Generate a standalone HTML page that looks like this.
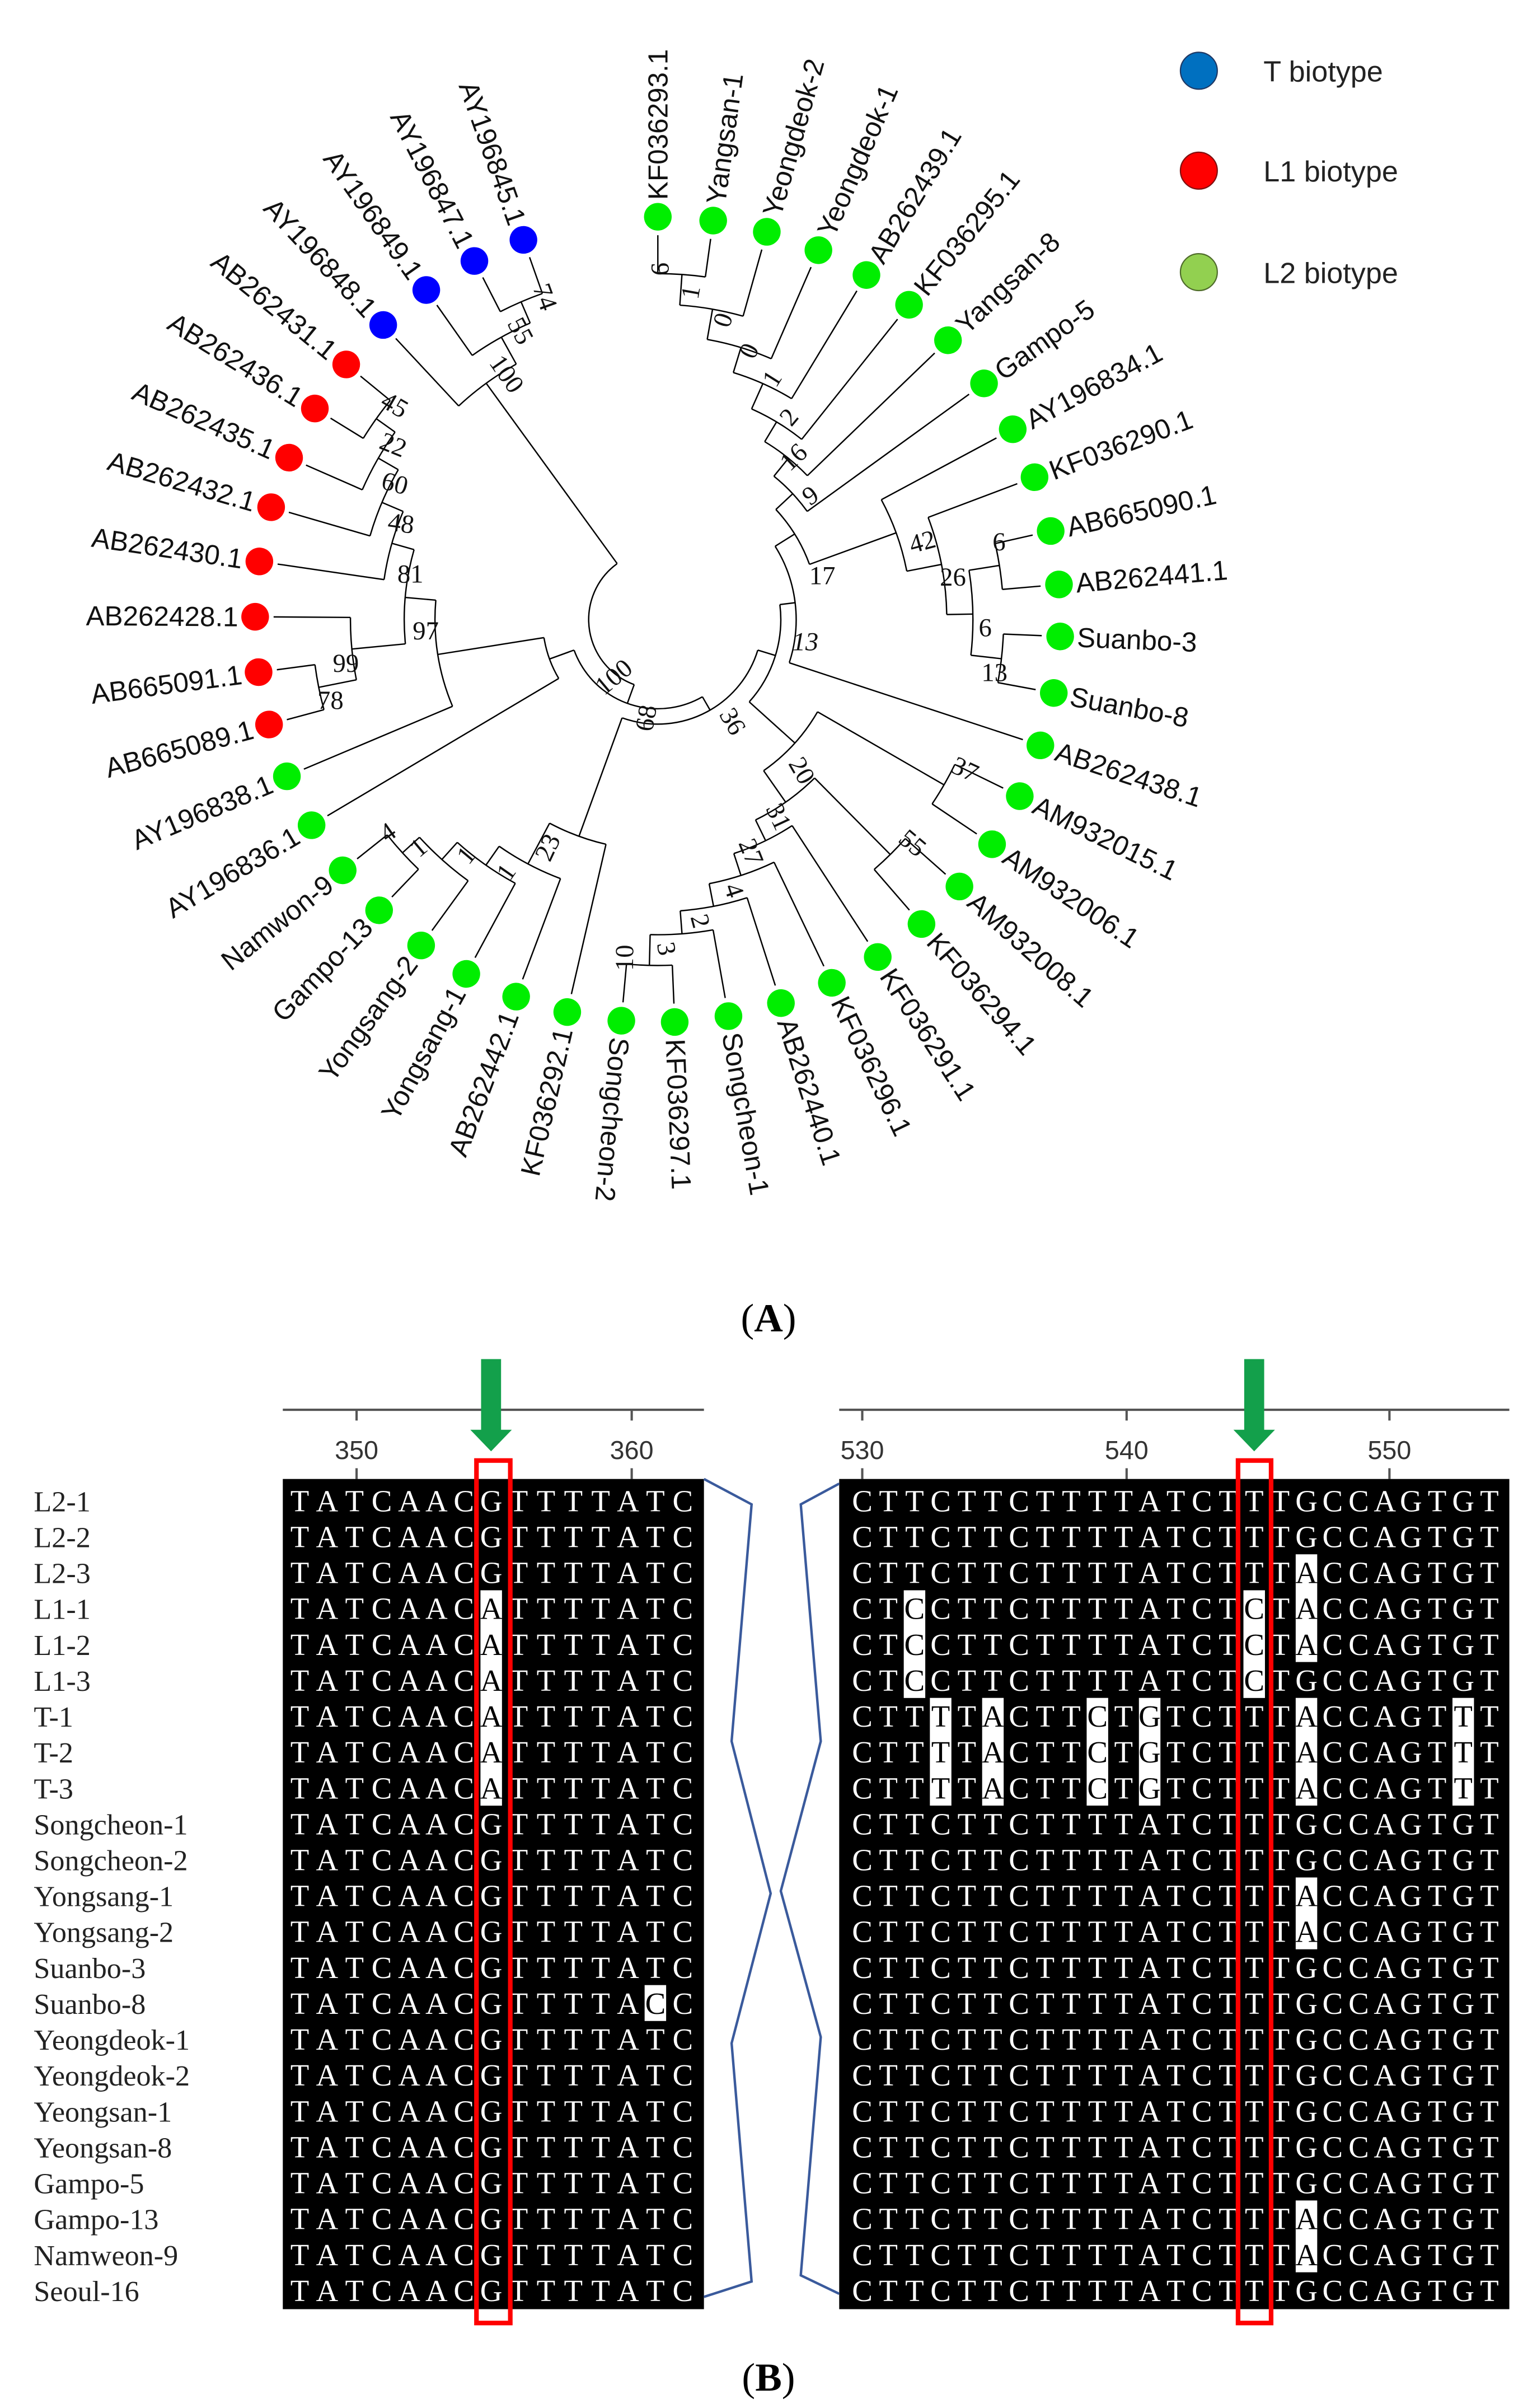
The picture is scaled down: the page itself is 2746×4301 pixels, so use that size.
<!DOCTYPE html>
<html><head><meta charset="utf-8">
<style>
html,body{margin:0;padding:0;background:#fff;}
svg{display:block;}
</style></head>
<body>
<svg xmlns="http://www.w3.org/2000/svg" width="2746" height="4301" viewBox="0 0 1000 1566.28">
<rect width="1000" height="1566.28" fill="#fff"/>

<g transform="translate(428 403)">
<g stroke="#000" stroke-width="0.9" fill="none">
<line x1="225" x2="250" transform="rotate(-90)"/><line x1="225" x2="250" transform="rotate(-82.1)"/>
<circle r="225" pathLength="360" stroke-dasharray="7.9 400" transform="rotate(-90)"/>
<line x1="205" x2="225" transform="rotate(-86)"/><line x1="205" x2="250" transform="rotate(-74.3)"/>
<circle r="205" pathLength="360" stroke-dasharray="11.7 400" transform="rotate(-86)"/>
<line x1="185" x2="205" transform="rotate(-80)"/><line x1="185" x2="250" transform="rotate(-66.5)"/>
<circle r="185" pathLength="360" stroke-dasharray="13.5 400" transform="rotate(-80)"/>
<line x1="168" x2="185" transform="rotate(-73)"/><line x1="168" x2="250" transform="rotate(-58.8)"/>
<circle r="168" pathLength="360" stroke-dasharray="14.2 400" transform="rotate(-73)"/>
<line x1="150" x2="168" transform="rotate(-66)"/><line x1="150" x2="250" transform="rotate(-51.4)"/>
<circle r="150" pathLength="360" stroke-dasharray="14.6 400" transform="rotate(-66)"/>
<line x1="135" x2="150" transform="rotate(-59)"/><line x1="135" x2="250" transform="rotate(-43.9)"/>
<circle r="135" pathLength="360" stroke-dasharray="15.1 400" transform="rotate(-59)"/>
<line x1="120" x2="135" transform="rotate(-51)"/><line x1="120" x2="250" transform="rotate(-35.9)"/>
<circle r="120" pathLength="360" stroke-dasharray="15.1 400" transform="rotate(-51)"/>
<line x1="225" x2="250" transform="rotate(-12.7)"/><line x1="225" x2="250" transform="rotate(-5)"/>
<circle r="225" pathLength="360" stroke-dasharray="7.7 400" transform="rotate(-12.7)"/>
<line x1="225" x2="250" transform="rotate(2.4)"/><line x1="225" x2="250" transform="rotate(10.5)"/>
<circle r="225" pathLength="360" stroke-dasharray="8.1 400" transform="rotate(2.4)"/>
<line x1="205" x2="225" transform="rotate(-9)"/><line x1="205" x2="225" transform="rotate(6.5)"/>
<circle r="205" pathLength="360" stroke-dasharray="15.5 400" transform="rotate(-9)"/>
<line x1="188" x2="250" transform="rotate(-20.7)"/><line x1="188" x2="205" transform="rotate(-1)"/>
<circle r="188" pathLength="360" stroke-dasharray="19.7 400" transform="rotate(-20.7)"/>
<line x1="165" x2="250" transform="rotate(-28.2)"/><line x1="165" x2="188" transform="rotate(-11)"/>
<circle r="165" pathLength="360" stroke-dasharray="17.2 400" transform="rotate(-28.2)"/>
<line x1="105" x2="120" transform="rotate(-43)"/><line x1="105" x2="165" transform="rotate(-20)"/>
<circle r="105" pathLength="360" stroke-dasharray="23 400" transform="rotate(-43)"/>
<line x1="90" x2="105" transform="rotate(-32)"/><line x1="90" x2="250" transform="rotate(18.2)"/>
<circle r="90" pathLength="360" stroke-dasharray="50.2 400" transform="rotate(-32)"/>
<line x1="225" x2="250" transform="rotate(87.6)"/><line x1="225" x2="250" transform="rotate(95.2)"/>
<circle r="225" pathLength="360" stroke-dasharray="7.6 400" transform="rotate(87.6)"/>
<line x1="205" x2="250" transform="rotate(79.9)"/><line x1="205" x2="225" transform="rotate(91.4)"/>
<circle r="205" pathLength="360" stroke-dasharray="11.5 400" transform="rotate(79.9)"/>
<line x1="190" x2="250" transform="rotate(72.2)"/><line x1="190" x2="205" transform="rotate(85.6)"/>
<circle r="190" pathLength="360" stroke-dasharray="13.4 400" transform="rotate(72.2)"/>
<line x1="175" x2="250" transform="rotate(64.4)"/><line x1="175" x2="190" transform="rotate(79)"/>
<circle r="175" pathLength="360" stroke-dasharray="14.6 400" transform="rotate(64.4)"/>
<line x1="160" x2="250" transform="rotate(56.9)"/><line x1="160" x2="175" transform="rotate(72)"/>
<circle r="160" pathLength="360" stroke-dasharray="15.1 400" transform="rotate(56.9)"/>
<line x1="215" x2="250" transform="rotate(41.5)"/><line x1="215" x2="250" transform="rotate(49.1)"/>
<circle r="215" pathLength="360" stroke-dasharray="7.6 400" transform="rotate(41.5)"/>
<line x1="145" x2="215" transform="rotate(45.3)"/><line x1="145" x2="160" transform="rotate(64)"/>
<circle r="145" pathLength="360" stroke-dasharray="18.7 400" transform="rotate(45.3)"/>
<line x1="215" x2="250" transform="rotate(26)"/><line x1="215" x2="250" transform="rotate(33.9)"/>
<circle r="215" pathLength="360" stroke-dasharray="7.9 400" transform="rotate(26)"/>
<line x1="120" x2="215" transform="rotate(30)"/><line x1="120" x2="145" transform="rotate(55)"/>
<circle r="120" pathLength="360" stroke-dasharray="25 400" transform="rotate(30)"/>
<line x1="80" x2="90" transform="rotate(-7)"/><line x1="80" x2="120" transform="rotate(42)"/>
<circle r="80" pathLength="360" stroke-dasharray="49 400" transform="rotate(-7)"/>
<line x1="225" x2="250" transform="rotate(133.8)"/><line x1="225" x2="250" transform="rotate(141.5)"/>
<circle r="225" pathLength="360" stroke-dasharray="7.7 400" transform="rotate(133.8)"/>
<line x1="210" x2="250" transform="rotate(126)"/><line x1="210" x2="225" transform="rotate(137.6)"/>
<circle r="210" pathLength="360" stroke-dasharray="11.6 400" transform="rotate(126)"/>
<line x1="195" x2="250" transform="rotate(118.4)"/><line x1="195" x2="210" transform="rotate(132)"/>
<circle r="195" pathLength="360" stroke-dasharray="13.6 400" transform="rotate(118.4)"/>
<line x1="180" x2="250" transform="rotate(110.6)"/><line x1="180" x2="195" transform="rotate(125)"/>
<circle r="180" pathLength="360" stroke-dasharray="14.4 400" transform="rotate(110.6)"/>
<line x1="150" x2="250" transform="rotate(103)"/><line x1="150" x2="180" transform="rotate(118)"/>
<circle r="150" pathLength="360" stroke-dasharray="15 400" transform="rotate(103)"/>
<line x1="68" x2="80" transform="rotate(17)"/><line x1="68" x2="150" transform="rotate(110)"/>
<circle r="68" pathLength="360" stroke-dasharray="93 400" transform="rotate(17)"/>
<line x1="225" x2="250" transform="rotate(211.6)"/><line x1="225" x2="250" transform="rotate(219.3)"/>
<circle r="225" pathLength="360" stroke-dasharray="7.7 400" transform="rotate(211.6)"/>
<line x1="210" x2="250" transform="rotate(203.7)"/><line x1="210" x2="225" transform="rotate(215.5)"/>
<circle r="210" pathLength="360" stroke-dasharray="11.8 400" transform="rotate(203.7)"/>
<line x1="195" x2="250" transform="rotate(196.2)"/><line x1="195" x2="210" transform="rotate(210)"/>
<circle r="195" pathLength="360" stroke-dasharray="13.8 400" transform="rotate(196.2)"/>
<line x1="180" x2="250" transform="rotate(188.3)"/><line x1="180" x2="195" transform="rotate(203)"/>
<circle r="180" pathLength="360" stroke-dasharray="14.7 400" transform="rotate(188.3)"/>
<line x1="225" x2="250" transform="rotate(164.9)"/><line x1="225" x2="250" transform="rotate(172.5)"/>
<circle r="225" pathLength="360" stroke-dasharray="7.6 400" transform="rotate(164.9)"/>
<line x1="200" x2="225" transform="rotate(168.7)"/><line x1="200" x2="250" transform="rotate(180.4)"/>
<circle r="200" pathLength="360" stroke-dasharray="11.7 400" transform="rotate(168.7)"/>
<line x1="165" x2="200" transform="rotate(174.5)"/><line x1="165" x2="180" transform="rotate(196)"/>
<circle r="165" pathLength="360" stroke-dasharray="21.5 400" transform="rotate(174.5)"/>
<line x1="145" x2="250" transform="rotate(157.1)"/><line x1="145" x2="165" transform="rotate(185)"/>
<circle r="145" pathLength="360" stroke-dasharray="27.9 400" transform="rotate(157.1)"/>
<line x1="75" x2="250" transform="rotate(149.3)"/><line x1="75" x2="145" transform="rotate(171)"/>
<circle r="75" pathLength="360" stroke-dasharray="21.7 400" transform="rotate(149.3)"/>
<line x1="58" x2="68" transform="rotate(60)"/><line x1="58" x2="75" transform="rotate(160)"/>
<circle r="58" pathLength="360" stroke-dasharray="100 400" transform="rotate(60)"/>
<line x1="225" x2="250" transform="rotate(242.9)"/><line x1="225" x2="250" transform="rotate(250.5)"/>
<circle r="225" pathLength="360" stroke-dasharray="7.6 400" transform="rotate(242.9)"/>
<line x1="210" x2="250" transform="rotate(234.9)"/><line x1="210" x2="225" transform="rotate(246.7)"/>
<circle r="210" pathLength="360" stroke-dasharray="11.8 400" transform="rotate(234.9)"/>
<line x1="190" x2="250" transform="rotate(227)"/><line x1="190" x2="210" transform="rotate(241)"/>
<circle r="190" pathLength="360" stroke-dasharray="14 400" transform="rotate(227)"/>
<line x1="45" x2="58" transform="rotate(110)"/><line x1="45" x2="190" transform="rotate(234)"/>
<circle r="45" pathLength="360" stroke-dasharray="124 400" transform="rotate(110)"/>
</g>

<g fill="#00ee00">
<circle cx="262" r="9" transform="rotate(-90)"/>
<circle cx="262" r="9" transform="rotate(-82.1)"/>
<circle cx="262" r="9" transform="rotate(-74.3)"/>
<circle cx="262" r="9" transform="rotate(-66.5)"/>
<circle cx="262" r="9" transform="rotate(-58.8)"/>
<circle cx="262" r="9" transform="rotate(-51.4)"/>
<circle cx="262" r="9" transform="rotate(-43.9)"/>
<circle cx="262" r="9" transform="rotate(-35.9)"/>
<circle cx="262" r="9" transform="rotate(-28.2)"/>
<circle cx="262" r="9" transform="rotate(-20.7)"/>
<circle cx="262" r="9" transform="rotate(-12.7)"/>
<circle cx="262" r="9" transform="rotate(-5)"/>
<circle cx="262" r="9" transform="rotate(2.4)"/>
<circle cx="262" r="9" transform="rotate(10.5)"/>
<circle cx="262" r="9" transform="rotate(18.2)"/>
<circle cx="262" r="9" transform="rotate(26)"/>
<circle cx="262" r="9" transform="rotate(33.9)"/>
<circle cx="262" r="9" transform="rotate(41.5)"/>
<circle cx="262" r="9" transform="rotate(49.1)"/>
<circle cx="262" r="9" transform="rotate(56.9)"/>
<circle cx="262" r="9" transform="rotate(64.4)"/>
<circle cx="262" r="9" transform="rotate(72.2)"/>
<circle cx="262" r="9" transform="rotate(79.9)"/>
<circle cx="262" r="9" transform="rotate(87.6)"/>
<circle cx="262" r="9" transform="rotate(95.2)"/>
<circle cx="262" r="9" transform="rotate(103)"/>
<circle cx="262" r="9" transform="rotate(110.6)"/>
<circle cx="262" r="9" transform="rotate(118.4)"/>
<circle cx="262" r="9" transform="rotate(126)"/>
<circle cx="262" r="9" transform="rotate(133.8)"/>
<circle cx="262" r="9" transform="rotate(141.5)"/>
<circle cx="262" r="9" transform="rotate(149.3)"/>
<circle cx="262" r="9" transform="rotate(157.1)"/>
</g>
<g fill="#ff0000">
<circle cx="262" r="9" transform="rotate(164.9)"/>
<circle cx="262" r="9" transform="rotate(172.5)"/>
<circle cx="262" r="9" transform="rotate(180.4)"/>
<circle cx="262" r="9" transform="rotate(188.3)"/>
<circle cx="262" r="9" transform="rotate(196.2)"/>
<circle cx="262" r="9" transform="rotate(203.7)"/>
<circle cx="262" r="9" transform="rotate(211.6)"/>
<circle cx="262" r="9" transform="rotate(219.3)"/>
</g>
<g fill="#0000ff">
<circle cx="262" r="9" transform="rotate(227)"/>
<circle cx="262" r="9" transform="rotate(234.9)"/>
<circle cx="262" r="9" transform="rotate(242.9)"/>
<circle cx="262" r="9" transform="rotate(250.5)"/>
</g>

<g font-family="'Liberation Sans', Arial, sans-serif" font-size="18" fill="#111">
<text dy=".35em" transform="rotate(-90) translate(273 0)">KF036293.1</text>
<text dy=".35em" transform="rotate(-82.1) translate(273 0)">Yangsan-1</text>
<text dy=".35em" transform="rotate(-74.3) translate(273 0)">Yeongdeok-2</text>
<text dy=".35em" transform="rotate(-66.5) translate(273 0)">Yeongdeok-1</text>
<text dy=".35em" transform="rotate(-58.8) translate(273 0)">AB262439.1</text>
<text dy=".35em" transform="rotate(-51.4) translate(273 0)">KF036295.1</text>
<text dy=".35em" transform="rotate(-43.9) translate(273 0)">Yangsan-8</text>
<text dy=".35em" transform="rotate(-35.9) translate(273 0)">Gampo-5</text>
<text dy=".35em" transform="rotate(-28.2) translate(273 0)">AY196834.1</text>
<text dy=".35em" transform="rotate(-20.7) translate(273 0)">KF036290.1</text>
<text dy=".35em" transform="rotate(-12.7) translate(273 0)">AB665090.1</text>
<text dy=".35em" transform="rotate(-5) translate(273 0)">AB262441.1</text>
<text dy=".35em" transform="rotate(2.4) translate(273 0)">Suanbo-3</text>
<text dy=".35em" transform="rotate(10.5) translate(273 0)">Suanbo-8</text>
<text dy=".35em" transform="rotate(18.2) translate(273 0)">AB262438.1</text>
<text dy=".35em" transform="rotate(26) translate(273 0)">AM932015.1</text>
<text dy=".35em" transform="rotate(33.9) translate(273 0)">AM932006.1</text>
<text dy=".35em" transform="rotate(41.5) translate(273 0)">AM932008.1</text>
<text dy=".35em" transform="rotate(49.1) translate(273 0)">KF036294.1</text>
<text dy=".35em" transform="rotate(56.9) translate(273 0)">KF036291.1</text>
<text dy=".35em" transform="rotate(64.4) translate(273 0)">KF036296.1</text>
<text dy=".35em" transform="rotate(72.2) translate(273 0)">AB262440.1</text>
<text dy=".35em" transform="rotate(79.9) translate(273 0)">Songcheon-1</text>
<text dy=".35em" transform="rotate(87.6) translate(273 0)">KF036297.1</text>
<text dy=".35em" transform="rotate(95.2) translate(273 0)">Songcheon-2</text>
<text dy=".35em" text-anchor="end" transform="rotate(-77) translate(-273 0)">KF036292.1</text>
<text dy=".35em" text-anchor="end" transform="rotate(-69.4) translate(-273 0)">AB262442.1</text>
<text dy=".35em" text-anchor="end" transform="rotate(-61.6) translate(-273 0)">Yongsang-1</text>
<text dy=".35em" text-anchor="end" transform="rotate(-54) translate(-273 0)">Yongsang-2</text>
<text dy=".35em" text-anchor="end" transform="rotate(-46.2) translate(-273 0)">Gampo-13</text>
<text dy=".35em" text-anchor="end" transform="rotate(-38.5) translate(-273 0)">Namwon-9</text>
<text dy=".35em" text-anchor="end" transform="rotate(-30.7) translate(-273 0)">AY196836.1</text>
<text dy=".35em" text-anchor="end" transform="rotate(-22.9) translate(-273 0)">AY196838.1</text>
<text dy=".35em" text-anchor="end" transform="rotate(-15.1) translate(-273 0)">AB665089.1</text>
<text dy=".35em" text-anchor="end" transform="rotate(-7.5) translate(-273 0)">AB665091.1</text>
<text dy=".35em" text-anchor="end" transform="rotate(0.4) translate(-273 0)">AB262428.1</text>
<text dy=".35em" text-anchor="end" transform="rotate(8.3) translate(-273 0)">AB262430.1</text>
<text dy=".35em" text-anchor="end" transform="rotate(16.2) translate(-273 0)">AB262432.1</text>
<text dy=".35em" text-anchor="end" transform="rotate(23.7) translate(-273 0)">AB262435.1</text>
<text dy=".35em" text-anchor="end" transform="rotate(31.6) translate(-273 0)">AB262436.1</text>
<text dy=".35em" text-anchor="end" transform="rotate(39.3) translate(-273 0)">AB262431.1</text>
<text dy=".35em" text-anchor="end" transform="rotate(47) translate(-273 0)">AY196848.1</text>
<text dy=".35em" text-anchor="end" transform="rotate(54.9) translate(-273 0)">AY196849.1</text>
<text dy=".35em" text-anchor="end" transform="rotate(62.9) translate(-273 0)">AY196847.1</text>
<text dy=".35em" text-anchor="end" transform="rotate(70.5) translate(-273 0)">AY196845.1</text>
</g>
</g>

<g font-family="'Liberation Serif', 'Times New Roman', serif" font-size="17" fill="#111" text-anchor="middle">
<text dy=".35em" transform="translate(429 175) rotate(-90)">6</text>
<text dy=".35em" transform="translate(449 190) rotate(-80)">1</text>
<text dy=".35em" transform="translate(470 208) rotate(-72)">0</text>
<text dy=".35em" transform="translate(487 228) rotate(-65)">0</text>
<text dy=".35em" transform="translate(502 246) rotate(-58)">1</text>
<text dy=".35em" transform="translate(513 271) rotate(-50)">2</text>
<text dy=".35em" transform="translate(516 297) rotate(-43)">16</text>
<text dy=".35em" transform="translate(527 322) rotate(-35)">9</text>
<text dy=".35em" transform="translate(600 352) rotate(-15)">42</text>
<text dy=".35em" x="620" y="375">26</text>
<text dy=".35em" x="650" y="352">6</text>
<text dy=".35em" x="641" y="408">6</text>
<text dy=".35em" x="647" y="437">13</text>
<text dy=".35em" x="535" y="374">17</text>
<text dy=".35em" x="524" y="417" font-style="italic">13</text>
<text dy=".35em" transform="translate(628 500) rotate(25)">37</text>
<text dy=".35em" transform="translate(522 501) rotate(60)">20</text>
<text dy=".35em" transform="translate(507 531) rotate(65)">31</text>
<text dy=".35em" transform="translate(594 548) rotate(40)">55</text>
<text dy=".35em" transform="translate(489 554) rotate(68)">27</text>
<text dy=".35em" transform="translate(478 579) rotate(72)">4</text>
<text dy=".35em" transform="translate(456 599) rotate(75)">2</text>
<text dy=".35em" transform="translate(434 617) rotate(80)">3</text>
<text dy=".35em" transform="translate(406 623) rotate(-90)">10</text>
<text dy=".35em" transform="translate(477 469) rotate(60)">36</text>
<text dy=".35em" transform="translate(420 467) rotate(-80)">68</text>
<text dy=".35em" transform="translate(399 440) rotate(-40)">100</text>
<text dy=".35em" transform="translate(355 193) rotate(70)">74</text>
<text dy=".35em" transform="translate(339 215) rotate(62)">55</text>
<text dy=".35em" transform="translate(330 243) rotate(55)">100</text>
<text dy=".35em" transform="translate(257 263) rotate(30)">45</text>
<text dy=".35em" transform="translate(256 289) rotate(22)">22</text>
<text dy=".35em" transform="translate(257 314) rotate(15)">60</text>
<text dy=".35em" transform="translate(261 340) rotate(8)">48</text>
<text dy=".35em" x="267" y="373">81</text>
<text dy=".35em" x="277" y="410">97</text>
<text dy=".35em" x="225" y="431">99</text>
<text dy=".35em" x="215" y="455">78</text>
<text dy=".35em" transform="translate(252 541) rotate(-35)">4</text>
<text dy=".35em" transform="translate(272 551) rotate(-40)">1</text>
<text dy=".35em" transform="translate(303 556) rotate(-50)">1</text>
<text dy=".35em" transform="translate(329 567) rotate(-55)">1</text>
<text dy=".35em" transform="translate(356 551) rotate(-65)">23</text>
</g>

<circle cx="780" cy="46" r="12" fill="#0070c0" stroke="#1f3864" stroke-width="0.8"/>
<circle cx="780" cy="111" r="12" fill="#ff0000" stroke="#7f1010" stroke-width="0.8"/>
<circle cx="780" cy="177" r="12" fill="#92d050" stroke="#4e6b2a" stroke-width="0.8"/>
<g font-family="'Liberation Sans', Arial, sans-serif" font-size="19" fill="#222">
<text x="822" y="53">T biotype</text>
<text x="822" y="118">L1 biotype</text>
<text x="822" y="184">L2 biotype</text>
</g>

<text x="500" y="866" text-anchor="middle" font-family="'Liberation Serif', serif" font-size="26" fill="#000">(<tspan font-weight="bold">A</tspan>)</text>

<g stroke="#555" stroke-width="1.5">
<line x1="184" y1="917" x2="458" y2="917"/>
<line x1="232" y1="917" x2="232" y2="924"/><line x1="411" y1="917" x2="411" y2="924"/>
<line x1="232" y1="955" x2="232" y2="962"/><line x1="411" y1="955" x2="411" y2="962"/>
<line x1="546" y1="917" x2="982" y2="917"/>
<line x1="561" y1="917" x2="561" y2="924"/><line x1="733" y1="917" x2="733" y2="924"/><line x1="904" y1="917" x2="904" y2="924"/>
<line x1="561" y1="955" x2="561" y2="962"/><line x1="733" y1="955" x2="733" y2="962"/><line x1="904" y1="955" x2="904" y2="962"/>
</g>
<g font-family="'Liberation Sans', Arial, sans-serif" font-size="17" fill="#333" text-anchor="middle">
<text x="232" y="949">350</text><text x="411" y="949">360</text>
<text x="561" y="949">530</text><text x="733" y="949">540</text><text x="904" y="949">550</text>
</g>

<rect x="184" y="962" width="274" height="540" fill="#000"/>
<rect x="546" y="962" width="436" height="540" fill="#000"/>

<g font-family="'Liberation Serif', 'Times New Roman', serif" font-size="19" fill="#222">
<text x="22" y="983">L2-1</text>
<text x="22" y="1006.35">L2-2</text>
<text x="22" y="1029.7">L2-3</text>
<text x="22" y="1053.05">L1-1</text>
<text x="22" y="1076.4">L1-2</text>
<text x="22" y="1099.75">L1-3</text>
<text x="22" y="1123.1">T-1</text>
<text x="22" y="1146.45">T-2</text>
<text x="22" y="1169.8">T-3</text>
<text x="22" y="1193.15">Songcheon-1</text>
<text x="22" y="1216.5">Songcheon-2</text>
<text x="22" y="1239.85">Yongsang-1</text>
<text x="22" y="1263.2">Yongsang-2</text>
<text x="22" y="1286.55">Suanbo-3</text>
<text x="22" y="1309.9">Suanbo-8</text>
<text x="22" y="1333.25">Yeongdeok-1</text>
<text x="22" y="1356.6">Yeongdeok-2</text>
<text x="22" y="1379.95">Yeongsan-1</text>
<text x="22" y="1403.3">Yeongsan-8</text>
<text x="22" y="1426.65">Gampo-5</text>
<text x="22" y="1450">Gampo-13</text>
<text x="22" y="1473.35">Namweon-9</text>
<text x="22" y="1496.7">Seoul-16</text>
</g>

<g font-family="'Liberation Serif', 'Times New Roman', serif" font-size="20" fill="#fff" text-anchor="middle">
<g>
<text y="983" x="195 212.8 230.6 248.4 266.2 284 301.8 319.6 337.4 355.2 373 390.8 408.6 426.4 444.2">TATCAACGTTTTATC</text>
<text y="1006.35" x="195 212.8 230.6 248.4 266.2 284 301.8 319.6 337.4 355.2 373 390.8 408.6 426.4 444.2">TATCAACGTTTTATC</text>
<text y="1029.7" x="195 212.8 230.6 248.4 266.2 284 301.8 319.6 337.4 355.2 373 390.8 408.6 426.4 444.2">TATCAACGTTTTATC</text>
<text y="1053.05" x="195 212.8 230.6 248.4 266.2 284 301.8 319.6 337.4 355.2 373 390.8 408.6 426.4 444.2">TATCAACATTTTATC</text>
<text y="1076.4" x="195 212.8 230.6 248.4 266.2 284 301.8 319.6 337.4 355.2 373 390.8 408.6 426.4 444.2">TATCAACATTTTATC</text>
<text y="1099.75" x="195 212.8 230.6 248.4 266.2 284 301.8 319.6 337.4 355.2 373 390.8 408.6 426.4 444.2">TATCAACATTTTATC</text>
<text y="1123.1" x="195 212.8 230.6 248.4 266.2 284 301.8 319.6 337.4 355.2 373 390.8 408.6 426.4 444.2">TATCAACATTTTATC</text>
<text y="1146.45" x="195 212.8 230.6 248.4 266.2 284 301.8 319.6 337.4 355.2 373 390.8 408.6 426.4 444.2">TATCAACATTTTATC</text>
<text y="1169.8" x="195 212.8 230.6 248.4 266.2 284 301.8 319.6 337.4 355.2 373 390.8 408.6 426.4 444.2">TATCAACATTTTATC</text>
<text y="1193.15" x="195 212.8 230.6 248.4 266.2 284 301.8 319.6 337.4 355.2 373 390.8 408.6 426.4 444.2">TATCAACGTTTTATC</text>
<text y="1216.5" x="195 212.8 230.6 248.4 266.2 284 301.8 319.6 337.4 355.2 373 390.8 408.6 426.4 444.2">TATCAACGTTTTATC</text>
<text y="1239.85" x="195 212.8 230.6 248.4 266.2 284 301.8 319.6 337.4 355.2 373 390.8 408.6 426.4 444.2">TATCAACGTTTTATC</text>
<text y="1263.2" x="195 212.8 230.6 248.4 266.2 284 301.8 319.6 337.4 355.2 373 390.8 408.6 426.4 444.2">TATCAACGTTTTATC</text>
<text y="1286.55" x="195 212.8 230.6 248.4 266.2 284 301.8 319.6 337.4 355.2 373 390.8 408.6 426.4 444.2">TATCAACGTTTTATC</text>
<text y="1309.9" x="195 212.8 230.6 248.4 266.2 284 301.8 319.6 337.4 355.2 373 390.8 408.6 426.4 444.2">TATCAACGTTTTACC</text>
<text y="1333.25" x="195 212.8 230.6 248.4 266.2 284 301.8 319.6 337.4 355.2 373 390.8 408.6 426.4 444.2">TATCAACGTTTTATC</text>
<text y="1356.6" x="195 212.8 230.6 248.4 266.2 284 301.8 319.6 337.4 355.2 373 390.8 408.6 426.4 444.2">TATCAACGTTTTATC</text>
<text y="1379.95" x="195 212.8 230.6 248.4 266.2 284 301.8 319.6 337.4 355.2 373 390.8 408.6 426.4 444.2">TATCAACGTTTTATC</text>
<text y="1403.3" x="195 212.8 230.6 248.4 266.2 284 301.8 319.6 337.4 355.2 373 390.8 408.6 426.4 444.2">TATCAACGTTTTATC</text>
<text y="1426.65" x="195 212.8 230.6 248.4 266.2 284 301.8 319.6 337.4 355.2 373 390.8 408.6 426.4 444.2">TATCAACGTTTTATC</text>
<text y="1450" x="195 212.8 230.6 248.4 266.2 284 301.8 319.6 337.4 355.2 373 390.8 408.6 426.4 444.2">TATCAACGTTTTATC</text>
<text y="1473.35" x="195 212.8 230.6 248.4 266.2 284 301.8 319.6 337.4 355.2 373 390.8 408.6 426.4 444.2">TATCAACGTTTTATC</text>
<text y="1496.7" x="195 212.8 230.6 248.4 266.2 284 301.8 319.6 337.4 355.2 373 390.8 408.6 426.4 444.2">TATCAACGTTTTATC</text>
</g>
<g>
<text y="983" x="561 578 595 612 629 646 663 680 697 714 731 748 765 782 799 816 833 850 867 884 901 918 935 952 969">CTTCTTCTTTTATCTTTGCCAGTGT</text>
<text y="1006.35" x="561 578 595 612 629 646 663 680 697 714 731 748 765 782 799 816 833 850 867 884 901 918 935 952 969">CTTCTTCTTTTATCTTTGCCAGTGT</text>
<text y="1029.7" x="561 578 595 612 629 646 663 680 697 714 731 748 765 782 799 816 833 850 867 884 901 918 935 952 969">CTTCTTCTTTTATCTTTACCAGTGT</text>
<text y="1053.05" x="561 578 595 612 629 646 663 680 697 714 731 748 765 782 799 816 833 850 867 884 901 918 935 952 969">CTCCTTCTTTTATCTCTACCAGTGT</text>
<text y="1076.4" x="561 578 595 612 629 646 663 680 697 714 731 748 765 782 799 816 833 850 867 884 901 918 935 952 969">CTCCTTCTTTTATCTCTACCAGTGT</text>
<text y="1099.75" x="561 578 595 612 629 646 663 680 697 714 731 748 765 782 799 816 833 850 867 884 901 918 935 952 969">CTCCTTCTTTTATCTCTGCCAGTGT</text>
<text y="1123.1" x="561 578 595 612 629 646 663 680 697 714 731 748 765 782 799 816 833 850 867 884 901 918 935 952 969">CTTTTACTTCTGTCTTTACCAGTTT</text>
<text y="1146.45" x="561 578 595 612 629 646 663 680 697 714 731 748 765 782 799 816 833 850 867 884 901 918 935 952 969">CTTTTACTTCTGTCTTTACCAGTTT</text>
<text y="1169.8" x="561 578 595 612 629 646 663 680 697 714 731 748 765 782 799 816 833 850 867 884 901 918 935 952 969">CTTTTACTTCTGTCTTTACCAGTTT</text>
<text y="1193.15" x="561 578 595 612 629 646 663 680 697 714 731 748 765 782 799 816 833 850 867 884 901 918 935 952 969">CTTCTTCTTTTATCTTTGCCAGTGT</text>
<text y="1216.5" x="561 578 595 612 629 646 663 680 697 714 731 748 765 782 799 816 833 850 867 884 901 918 935 952 969">CTTCTTCTTTTATCTTTGCCAGTGT</text>
<text y="1239.85" x="561 578 595 612 629 646 663 680 697 714 731 748 765 782 799 816 833 850 867 884 901 918 935 952 969">CTTCTTCTTTTATCTTTACCAGTGT</text>
<text y="1263.2" x="561 578 595 612 629 646 663 680 697 714 731 748 765 782 799 816 833 850 867 884 901 918 935 952 969">CTTCTTCTTTTATCTTTACCAGTGT</text>
<text y="1286.55" x="561 578 595 612 629 646 663 680 697 714 731 748 765 782 799 816 833 850 867 884 901 918 935 952 969">CTTCTTCTTTTATCTTTGCCAGTGT</text>
<text y="1309.9" x="561 578 595 612 629 646 663 680 697 714 731 748 765 782 799 816 833 850 867 884 901 918 935 952 969">CTTCTTCTTTTATCTTTGCCAGTGT</text>
<text y="1333.25" x="561 578 595 612 629 646 663 680 697 714 731 748 765 782 799 816 833 850 867 884 901 918 935 952 969">CTTCTTCTTTTATCTTTGCCAGTGT</text>
<text y="1356.6" x="561 578 595 612 629 646 663 680 697 714 731 748 765 782 799 816 833 850 867 884 901 918 935 952 969">CTTCTTCTTTTATCTTTGCCAGTGT</text>
<text y="1379.95" x="561 578 595 612 629 646 663 680 697 714 731 748 765 782 799 816 833 850 867 884 901 918 935 952 969">CTTCTTCTTTTATCTTTGCCAGTGT</text>
<text y="1403.3" x="561 578 595 612 629 646 663 680 697 714 731 748 765 782 799 816 833 850 867 884 901 918 935 952 969">CTTCTTCTTTTATCTTTGCCAGTGT</text>
<text y="1426.65" x="561 578 595 612 629 646 663 680 697 714 731 748 765 782 799 816 833 850 867 884 901 918 935 952 969">CTTCTTCTTTTATCTTTGCCAGTGT</text>
<text y="1450" x="561 578 595 612 629 646 663 680 697 714 731 748 765 782 799 816 833 850 867 884 901 918 935 952 969">CTTCTTCTTTTATCTTTACCAGTGT</text>
<text y="1473.35" x="561 578 595 612 629 646 663 680 697 714 731 748 765 782 799 816 833 850 867 884 901 918 935 952 969">CTTCTTCTTTTATCTTTACCAGTGT</text>
<text y="1496.7" x="561 578 595 612 629 646 663 680 697 714 731 748 765 782 799 816 833 850 867 884 901 918 935 952 969">CTTCTTCTTTTATCTTTGCCAGTGT</text>
</g>
</g>

<g fill="#fff">
<rect x="312.6" y="1034.4" width="14" height="140.1"/>
<rect x="419.4" y="1291.2" width="14" height="23.35"/>
<rect x="588" y="1034.4" width="14" height="70.05"/>
<rect x="809" y="1034.4" width="14" height="70.05"/>
<rect x="843" y="1011" width="14" height="70.05"/>
<rect x="843" y="1104.4" width="14" height="70.05"/>
<rect x="843" y="1221.2" width="14" height="46.7"/>
<rect x="843" y="1431.3" width="14" height="46.7"/>
<rect x="605" y="1104.4" width="14" height="70.05"/>
<rect x="639" y="1104.4" width="14" height="70.05"/>
<rect x="707" y="1104.4" width="14" height="70.05"/>
<rect x="741" y="1104.4" width="14" height="70.05"/>
<rect x="945" y="1104.4" width="14" height="70.05"/>
</g>
<g font-family="'Liberation Serif', 'Times New Roman', serif" font-size="20" fill="#000" text-anchor="middle">
<text x="319.6" y="1053.05">A</text><text x="319.6" y="1076.4">A</text><text x="319.6" y="1099.75">A</text>
<text x="319.6" y="1123.1">A</text><text x="319.6" y="1146.45">A</text><text x="319.6" y="1169.8">A</text>
<text x="426.4" y="1309.9">C</text>
<text x="595" y="1053.05">C</text><text x="595" y="1076.4">C</text><text x="595" y="1099.75">C</text>
<text x="816" y="1053.05">C</text><text x="816" y="1076.4">C</text><text x="816" y="1099.75">C</text>
<text x="850" y="1029.7">A</text><text x="850" y="1053.05">A</text><text x="850" y="1076.4">A</text>
<text x="850" y="1123.1">A</text><text x="850" y="1146.45">A</text><text x="850" y="1169.8">A</text>
<text x="850" y="1239.85">A</text><text x="850" y="1263.2">A</text>
<text x="850" y="1450">A</text><text x="850" y="1473.35">A</text>
<text x="612" y="1123.1">T</text><text x="612" y="1146.45">T</text><text x="612" y="1169.8">T</text>
<text x="646" y="1123.1">A</text><text x="646" y="1146.45">A</text><text x="646" y="1169.8">A</text>
<text x="714" y="1123.1">C</text><text x="714" y="1146.45">C</text><text x="714" y="1169.8">C</text>
<text x="748" y="1123.1">G</text><text x="748" y="1146.45">G</text><text x="748" y="1169.8">G</text>
<text x="952" y="1123.1">T</text><text x="952" y="1146.45">T</text><text x="952" y="1169.8">T</text>
</g>

<rect x="310" y="950" width="22" height="561" fill="none" stroke="#ff0000" stroke-width="3"/>
<rect x="805.5" y="950" width="21.5" height="561" fill="none" stroke="#ff0000" stroke-width="3"/>

<polygon points="313,884 326,884 326,930 333,930 319.5,944 306,930 313,930" fill="#13a04b"/>
<polygon points="809.5,884 822.5,884 822.5,930 829.5,930 816,944 802.5,930 809.5,930" fill="#13a04b"/>

<g fill="none" stroke="#3a5a9c" stroke-width="1.6" stroke-linejoin="miter">
<polyline points="458,962 489,978.5 476,1132.6 501.4,1231.6 476,1329 489,1484 458,1494"/>
<polyline points="546,965 521,978.5 534,1132.6 508,1230 534,1325 521,1480 546,1492"/>
</g>

<text x="500" y="1555" text-anchor="middle" font-family="'Liberation Serif', serif" font-size="26" fill="#000">(<tspan font-weight="bold">B</tspan>)</text>
</svg>
</body></html>
